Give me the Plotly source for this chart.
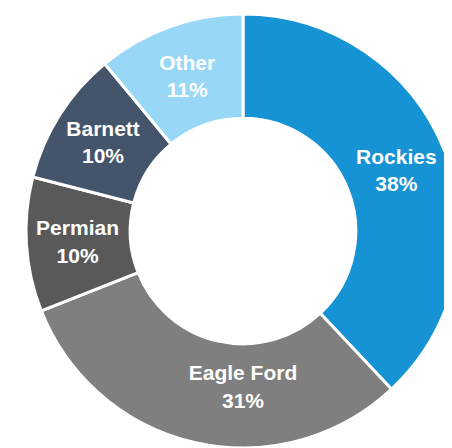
import plotly.graph_objects as go

# Production mix by basin (share of total, %)
basins = ["Rockies", "Eagle Ford", "Permian", "Barnett", "Other"]
shares = [38, 31, 10, 10, 11]
colors = ["#1593D4", "#7F7F7F", "#595959", "#44546A", "#98D7F6"]

W, H = 452, 448

fig = go.Figure(go.Pie(
    labels=basins,
    values=shares,
    sort=False,
    direction="clockwise",
    rotation=0,
    hole=0.52,
    marker=dict(colors=colors, line=dict(color="white", width=3)),
    texttemplate="<b>%{label}<br>%{value}%</b>",
    textposition="inside",
    insidetextorientation="horizontal",
    textfont=dict(family="Liberation Sans, Arial, sans-serif", size=21, color="white"),
    # page body adds an 8px offset, so the ring sits a little up/left here
    domain=dict(x=[18 / W, 1.0], y=[8 / H, 442 / H]),
    hoverinfo="label+percent",
))

fig.update_layout(
    width=W,
    height=H,
    margin=dict(l=0, r=0, t=0, b=0),
    showlegend=False,
    paper_bgcolor="white",
    uniformtext=dict(minsize=21, mode="show"),
)

fig.write_html("out.html")
